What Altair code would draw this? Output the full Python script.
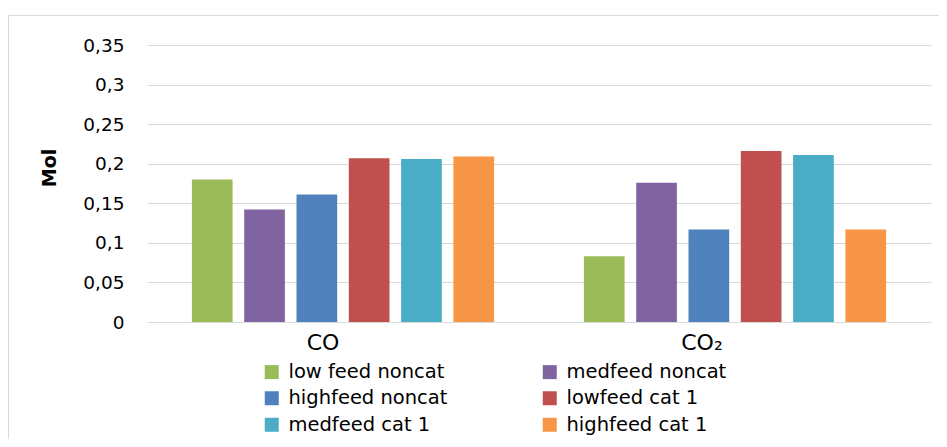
import altair as alt
import pandas as pd

categories = ["CO", "CO₂"]
series = ["low feed noncat", "medfeed noncat", "highfeed noncat",
          "lowfeed cat 1", "medfeed cat 1", "highfeed cat 1"]
co_values = [0.180, 0.142, 0.161, 0.207, 0.206, 0.209]
co2_values = [0.083, 0.176, 0.117, 0.216, 0.211, 0.117]
colors = ["#9BBB59", "#8064A2", "#4F81BD", "#C0504D", "#4BACC6", "#F79646"]
y_ticks = [0, 0.05, 0.1, 0.15, 0.2, 0.25, 0.3, 0.35]

rows = []
for cat, vals in zip(categories, [co_values, co2_values]):
    for s, v in zip(series, vals):
        rows.append({"gas": cat, "series": s, "mol": v})
df = pd.DataFrame(rows)

FONT = "DejaVu Sans"

bars = alt.Chart(df).mark_bar().encode(
    x=alt.X("gas:N", sort=categories,
            scale=alt.Scale(paddingInner=0, paddingOuter=0),
            axis=alt.Axis(title=None, labelAngle=0, domain=False, ticks=False,
                          labelFontSize=22, labelPadding=10, labelColor="#000000",
                          labelOffset={"condition": {"test": "datum.value == 'CO'", "value": -20}, "value": -33})),
    xOffset=alt.XOffset("series:N", sort=series,
                        scale=alt.Scale(paddingInner=0.222, paddingOuter=0.858)),
    y=alt.Y("mol:Q", scale=alt.Scale(domain=[0, 0.35], nice=False),
            axis=alt.Axis(title="Mol", values=y_ticks, domain=False, ticks=False,
                          labelFontSize=18.5, labelPadding=23, labelColor="#000000",
                          labelExpr="replace(format(datum.value, '~g'), '.', ',')",
                          titleFontSize=19, titleFontWeight="bold",
                          titleX=-88, titleY=122.5, titleColor="#000000",
                          gridColor="#d9d9d9", gridWidth=1)),
    color=alt.Color("series:N", sort=series,
                    scale=alt.Scale(domain=series, range=colors),
                    legend=alt.Legend(title=None, orient="none", legendX=115, legendY=317,
                                      direction="horizontal",
                                      columns=2, columnPadding=92, rowPadding=5.5,
                                      symbolType="square", symbolSize=196,
                                      symbolStrokeWidth=0, labelOffset=7,
                                      labelFontSize=19.5, labelColor="#000000",
                                      labelLimit=300)),
)

border_top = alt.Chart(alt.Data(values=[{}])).mark_rule(color="#d9d9d9", strokeWidth=1).encode(
    x=alt.value(-138.5), x2=alt.value(800), y=alt.value(-29.5))
border_left = alt.Chart(alt.Data(values=[{}])).mark_rule(color="#d9d9d9", strokeWidth=1).encode(
    x=alt.value(-138.5), y=alt.value(-29.5), y2=alt.value(400))

chart = alt.layer(border_top, border_left, bars).properties(
    width=784, height=277,
    autosize=alt.AutoSizeParams(type="none"),
    padding={"left": 139, "top": 37, "right": 8, "bottom": 117},
).configure(font=FONT).configure_view(stroke=None)

chart.save("out.html", embed_options={"renderer": "svg", "actions": False})
